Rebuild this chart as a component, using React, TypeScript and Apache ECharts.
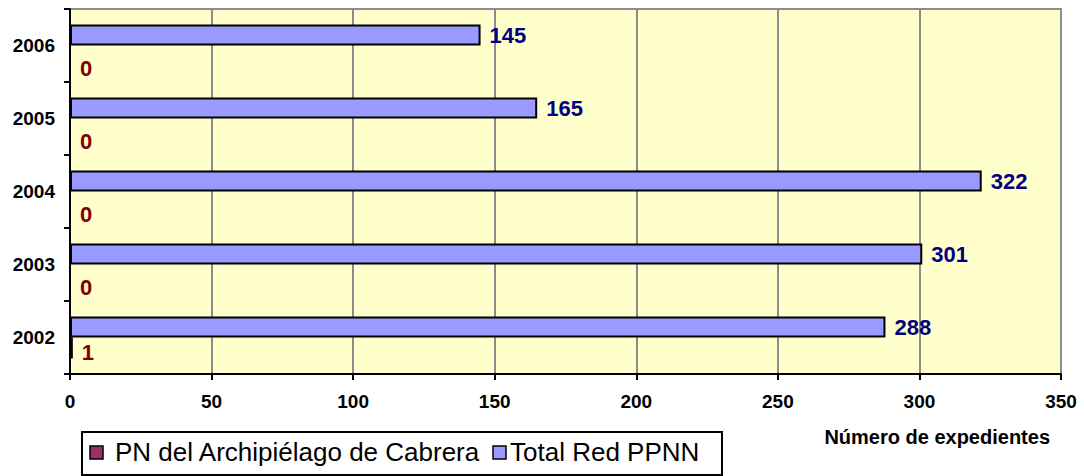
import React, { useEffect, useRef } from "react";
import * as echarts from "echarts";

const years = ["2002", "2003", "2004", "2005", "2006"];
const pnCabrera = [1, 0, 0, 0, 0];
const totalRed = [288, 301, 322, 165, 145];
const xTicks = { min: 0, max: 350, interval: 50 };
const seriesNames = ["PN del Archipiélago de Cabrera", "Total Red PPNN"];
const seriesColors = ["#993366", "#9999FF"];
const axisName = "Número de expedientes";

export default function App() {
  const ref = useRef<HTMLDivElement>(null);
  useEffect(() => {
    document.body.style.margin = "0";
    const chart = echarts.init(ref.current!, null, { renderer: "svg" });
    const font = "'Liberation Sans', Arial, sans-serif";
    const legendFont = 26;
    const legendMarkerX = [90, 493];
    const legendTextX = [115, 510];
    const mk = 13;
    chart.setOption({
      animation: false,
      textStyle: { fontFamily: font },
      grid: {
        left: 70,
        right: 23,
        top: 9,
        bottom: 102,
        show: true,
        backgroundColor: "#FFFFCC",
        borderColor: "#8c8c8c",
        borderWidth: 2,
      },
      legend: { show: false, data: seriesNames },
      graphic: [
        {
          type: "rect",
          shape: { x: 82, y: 432, width: 640, height: 43 },
          style: { fill: "#fff", stroke: "#000", lineWidth: 2 },
          z: 10,
        },
        ...seriesNames.flatMap((name, i) => [
          {
            type: "polygon",
            shape: {
              points: [
                [legendMarkerX[i], 446],
                [legendMarkerX[i] + mk, 446],
                [legendMarkerX[i] + mk, 446 + mk],
                [legendMarkerX[i], 446 + mk],
              ],
            },
            style: { fill: seriesColors[i], stroke: "#000", lineWidth: 1.5 },
            z: 12,
          },
          {
            type: "text",
            x: legendTextX[i],
            y: 452,
            style: {
              text: name,
              fill: "#000",
              font: `${legendFont}px ${font}`,
              verticalAlign: "middle",
              align: "left",
            },
            z: 11,
          },
        ]),
      ],
      xAxis: {
        type: "value",
        min: xTicks.min,
        max: xTicks.max,
        interval: xTicks.interval,
        name: axisName,
        nameLocation: "end",
        nameGap: -11,
        nameTextStyle: {
          align: "right",
          verticalAlign: "top",
          fontSize: 20,
          fontWeight: "bold",
          color: "#000",
          padding: [53, 0, 0, 0],
        },
        axisLine: { show: true, lineStyle: { color: "#000", width: 2 } },
        axisTick: { show: true, length: 6, lineStyle: { color: "#000", width: 2 } },
        axisLabel: { fontSize: 19, fontWeight: "bold", color: "#000", margin: 18 },
        splitLine: { show: true, lineStyle: { color: "#8c8c8c", width: 2 } },
      },
      yAxis: {
        type: "category",
        data: years,
        axisLine: { show: true, lineStyle: { color: "#000", width: 2 } },
        axisTick: { show: true, length: 6, interval: 0, lineStyle: { color: "#000", width: 2 } },
        axisLabel: { fontSize: 19, fontWeight: "bold", color: "#000", margin: 15 },
        splitLine: { show: false },
      },
      series: [
        {
          name: seriesNames[1],
          type: "bar",
          data: totalRed,
          barWidth: 21,
          barGap: "0%",
          itemStyle: { color: seriesColors[1], borderColor: "#000", borderWidth: 2 },
          label: {
            show: true,
            position: "right",
            distance: 9,
            fontSize: 22,
            fontWeight: "bold",
            color: "#000080",
          },
        },
        {
          name: seriesNames[0],
          type: "bar",
          data: pnCabrera.map((v) =>
            v === 0 ? { value: v, label: { offset: [0, 12] } } : { value: v, label: { offset: [0, 4] } }
          ),
          barWidth: 21,
          barGap: "0%",
          itemStyle: { color: seriesColors[0], borderColor: "#000", borderWidth: 2 },
          label: {
            show: true,
            position: "right",
            distance: 9,
            fontSize: 22,
            fontWeight: "bold",
            color: "#800000",
          },
        },
      ],
    });
    return () => chart.dispose();
  }, []);
  return <div ref={ref} style={{ width: 1084, height: 476 }} />;
}
